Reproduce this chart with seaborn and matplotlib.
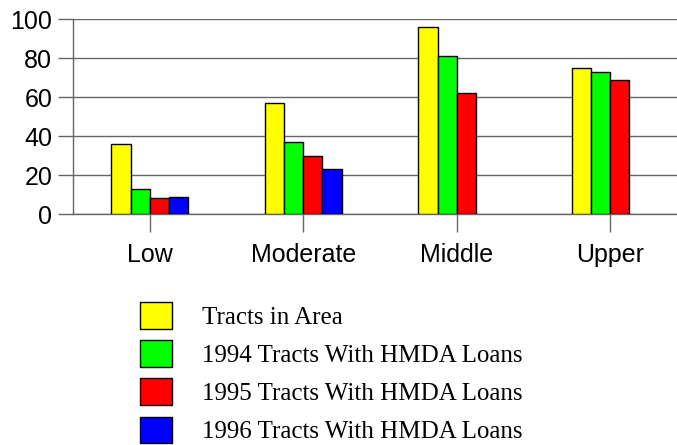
import matplotlib
matplotlib.use("Agg")
import matplotlib.pyplot as plt
import numpy as np
import pandas as pd
import seaborn as sns

categories = ["Low", "Moderate", "Middle", "Upper"]
series = ["Tracts in Area",
          "1994 Tracts With HMDA Loans",
          "1995 Tracts With HMDA Loans",
          "1996 Tracts With HMDA Loans"]
tracts_in_area = [36, 57, 96, 75]
loans_1994 = [13, 37, 81, 73]
loans_1995 = [8, 30, 62, 69]
loans_1996 = [9, 23, np.nan, np.nan]
colors = ["#FFFF00", "#00FF00", "#FF0000", "#0000FF"]

rows = []
for s, vals in zip(series, [tracts_in_area, loans_1994, loans_1995, loans_1996]):
    for c, v in zip(categories, vals):
        rows.append({"Income": c, "Series": s, "Tracts": v})
df = pd.DataFrame(rows).dropna()

sns.set_style("white")
plt.rcParams["font.family"] = ["Liberation Sans", "DejaVu Sans"]
plt.rcParams["text.color"] = "black"
plt.rcParams["xtick.color"] = "black"
plt.rcParams["ytick.color"] = "black"

fig = plt.figure(figsize=(6.77, 4.45), dpi=100)
ax = fig.add_axes([73 / 677, 0.519, 4 * 153.5 / 677, 0.438])

sns.barplot(data=df, x="Income", y="Tracts", hue="Series",
            order=categories, hue_order=series, palette=colors,
            saturation=1, width=0.5, edgecolor="black", linewidth=1,
            errorbar=None, ax=ax, zorder=3)

ax.set_xlim(-0.5, 3.5)
ax.set_ylim(0, 100)
ax.set_yticks([0, 20, 40, 60, 80, 100])
ax.yaxis.grid(True, color="#666666", linewidth=1)
ax.set_axisbelow(True)
for side in ["top", "right"]:
    ax.spines[side].set_visible(False)
for side in ["left", "bottom"]:
    ax.spines[side].set_color("#666666")
    ax.spines[side].set_linewidth(1)

ax.set_xlabel("")
ax.set_ylabel("")
ax.tick_params(axis="y", direction="out", length=11, width=1, color="#666666",
               labelcolor="black", labelsize=18, pad=4, left=True)
ax.tick_params(axis="x", direction="out", length=13, width=1, color="#666666",
               labelcolor="black", labelsize=18, pad=8, bottom=True)
ax.set_xticks(range(len(categories)))
ax.set_xticklabels(categories)
ax.set_xticks([0.5, 1.5, 2.5], minor=True)
ax.tick_params(axis="x", which="minor", direction="out", length=2, width=2,
               color="black")

handles, labels = ax.get_legend_handles_labels()
leg = ax.legend(handles, labels, loc="upper left",
                bbox_to_anchor=(140 / 677, 1 - 302 / 445),
                bbox_transform=fig.transFigure, frameon=False,
                prop={"family": "Liberation Serif", "size": 18},
                handlelength=1.28, handleheight=1.28, handletextpad=1.2,
                labelspacing=0.45, borderpad=0, borderaxespad=0)
for t in leg.get_texts():
    t.set_color("black")

fig.savefig("out.png", dpi=100)
